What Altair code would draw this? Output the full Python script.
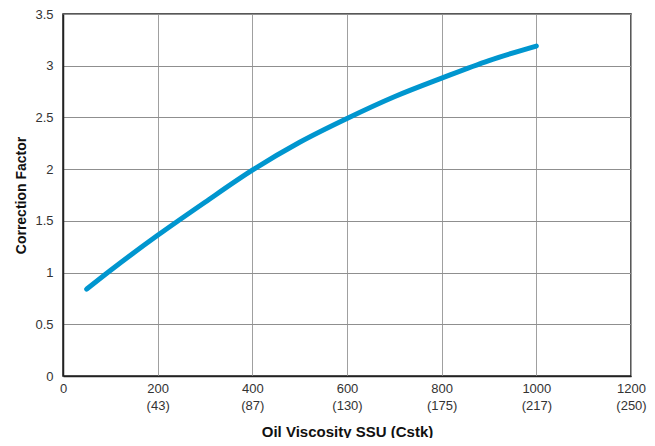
import altair as alt
import pandas as pd

# Curve data
ssu = [50, 100, 200, 300, 400, 500, 600, 700, 800, 900, 1000]
factor = [0.84, 1.02, 1.36, 1.68, 1.99, 2.26, 2.49, 2.70, 2.88, 3.05, 3.19]

# Tick labels
tick_ssu = [0, 200, 400, 600, 800, 1000, 1200]
tick_cstk = ["", "(43)", "(87)", "(130)", "(175)", "(217)", "(250)"]

df = pd.DataFrame({"ssu": ssu, "factor": factor})

parts = []
for v, c in zip(tick_ssu, tick_cstk):
    if c:
        parts.append(f"datum.value == {v} ? ['{v}', '{c}']")
label_expr = " : ".join(parts) + " : datum.label"

FONT = "Liberation Sans"

chart = (
    alt.Chart(df)
    .mark_line(color="#0096cf", strokeWidth=5, strokeCap="round", interpolate="monotone")
    .encode(
        x=alt.X(
            "ssu:Q",
            scale=alt.Scale(domain=[0, 1200], nice=False),
            axis=alt.Axis(
                values=tick_ssu,
                labelExpr=label_expr,
                title="Oil Viscosity SSU (Cstk)",
                titleFont=FONT,
                titleFontSize=15,
                titleFontWeight="bold",
                titleColor="#111",
                titlePadding=12,
                labelFont=FONT,
                labelFontSize=13,
                labelColor="#333",
                labelLineHeight=17,
                labelPadding=6,
                ticks=False,
                domainColor="#222",
                domainWidth=1.5,
                gridColor="#a0a0a0",
                gridWidth=1,
                labelFlush=False,
            ),
        ),
        y=alt.Y(
            "factor:Q",
            scale=alt.Scale(domain=[0, 3.5], nice=False),
            axis=alt.Axis(
                values=[0, 0.5, 1, 1.5, 2, 2.5, 3, 3.5],
                format="~g",
                title="Correction Factor",
                titleFont=FONT,
                titleFontSize=14,
                titleFontWeight="bold",
                titleColor="#111",
                titlePadding=6,
                labelFont=FONT,
                labelFontSize=13,
                labelColor="#333",
                labelPadding=10,
                ticks=False,
                domainColor="#222",
                domainWidth=1.5,
                gridColor="#8f8f8f",
                gridWidth=1,
            ),
        ),
    )
    .properties(
        width=568,
        height=362,
        autosize=alt.AutoSizeParams(type="none"),
        padding={"left": 55, "top": 6, "right": 16, "bottom": 62},
    )
    .configure_view(stroke="#222", strokeWidth=1.5)
)

chart.save("out.html", embed_options={"renderer": "svg", "actions": False})
